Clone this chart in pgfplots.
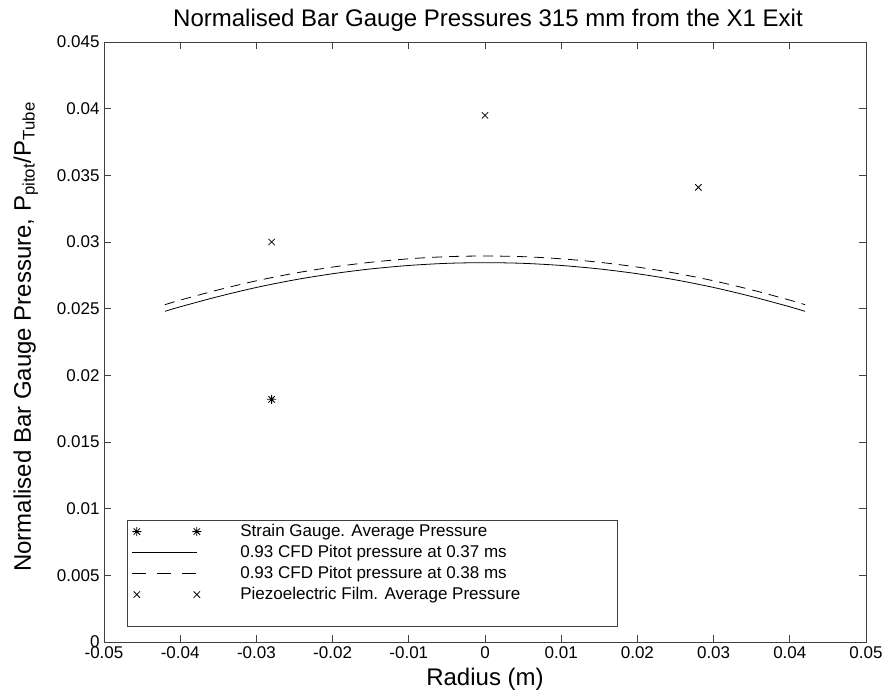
\documentclass[border=0pt]{standalone}
\usepackage{fontspec}
\setmainfont{Liberation Sans}
\usepackage{pgfplots}
\pgfplotsset{compat=1.18}
\pgfdeclareplotmark{ast8}{%
  \pgfpathmoveto{\pgfqpoint{0pt}{\pgfplotmarksize}}%
  \pgfpathlineto{\pgfqpoint{0pt}{-\pgfplotmarksize}}%
  \pgfpathmoveto{\pgfqpoint{\pgfplotmarksize}{0pt}}%
  \pgfpathlineto{\pgfqpoint{-\pgfplotmarksize}{0pt}}%
  \pgfpathmoveto{\pgfqpoint{.707\pgfplotmarksize}{.707\pgfplotmarksize}}%
  \pgfpathlineto{\pgfqpoint{-.707\pgfplotmarksize}{-.707\pgfplotmarksize}}%
  \pgfpathmoveto{\pgfqpoint{-.707\pgfplotmarksize}{.707\pgfplotmarksize}}%
  \pgfpathlineto{\pgfqpoint{.707\pgfplotmarksize}{-.707\pgfplotmarksize}}%
  \pgfusepathqstroke}
\begin{document}
\begin{tikzpicture}
\begin{axis}[
  name=ax,
  scale only axis,
  width=762pt, height=600pt,
  xmin=-0.05, xmax=0.05, ymin=0, ymax=0.045,
  xtick={-0.05,-0.04,-0.03,-0.02,-0.01,0,0.01,0.02,0.03,0.04,0.05},
  xticklabels={-0.05,-0.04,-0.03,-0.02,-0.01,0,0.01,0.02,0.03,0.04,0.05},
  ytick={0,0.005,0.01,0.015,0.02,0.025,0.03,0.035,0.04,0.045},
  yticklabels={0,0.005,0.01,0.015,0.02,0.025,0.03,0.035,0.04,0.045},
  scaled ticks=false,
  tick align=inside, tick pos=both,
  major tick length=7pt,
  axis line style={black!75, line width=0.8pt},
  every tick/.style={black!75, line width=0.8pt},
  tick label style={font=\fontsize{17}{19}\selectfont},
  xticklabel style={yshift=-1pt},
  yticklabel style={xshift=-1pt},
  title={Normalised Bar Gauge Pressures 315 mm from the X1 Exit},
  title style={font=\fontsize{24}{26}\selectfont, yshift=1pt, xshift=3pt},
  xlabel={Radius (m)},
  xlabel style={font=\fontsize{24}{26}\selectfont, yshift=-3pt},
  ylabel={Normalised Bar Gauge Pressure, P$_{\mathrm{pitot}}$/P$_{\mathrm{Tube}}$},
  ylabel style={font=\fontsize{24}{26}\selectfont, xshift=5pt},
  ylabel shift=12pt,
  legend style={at={(0.0302,0.025)}, anchor=south west, draw=black!75, line width=0.8pt,
    font=\fontsize{17}{19}\selectfont, cells={anchor=west}, column sep=38pt, row sep=3pt,
    inner xsep=4pt, inner ysep=2pt,
    nodes={inner sep=1pt, text height=12.5pt, text depth=3.5pt}},
]
\addplot[only marks, mark=ast8, mark size=4.5pt, mark options={line width=0.8pt},
  legend image code/.code={\draw[only marks] plot coordinates {(5pt,0pt) (65pt,0pt)};}]
  coordinates {(-0.028,0.0182)};
\addlegendentry{Strain Gauge. Average Pressure}
\addplot[black, line width=0.8pt, smooth, legend image code/.code={\draw (0pt,0pt) -- (65pt,0pt);}]
  coordinates {
  (-0.042,0.02480) (-0.040,0.02514) (-0.035,0.02591) (-0.030,0.02659) (-0.025,0.02716)
  (-0.020,0.02762) (-0.015,0.02798) (-0.010,0.02824) (-0.005,0.02840) (0.000,0.02845)
  (0.005,0.02840) (0.010,0.02824) (0.015,0.02798) (0.020,0.02762) (0.025,0.02716)
  (0.030,0.02659) (0.035,0.02591) (0.040,0.02514) (0.042,0.02480)};
\addlegendentry{0.93 CFD Pitot pressure at 0.37 ms}
\addplot[black, line width=0.8pt, smooth, dash pattern=on 10pt off 7pt,
  legend image code/.code={\draw[dash pattern=on 14pt off 11pt] (0pt,0pt) -- (64pt,0pt);}]
  coordinates {
  (-0.042,0.02530) (-0.040,0.02564) (-0.035,0.02641) (-0.030,0.02709) (-0.025,0.02766)
  (-0.020,0.02812) (-0.015,0.02848) (-0.010,0.02874) (-0.005,0.02890) (0.000,0.02895)
  (0.005,0.02890) (0.010,0.02874) (0.015,0.02848) (0.020,0.02812) (0.025,0.02766)
  (0.030,0.02709) (0.035,0.02641) (0.040,0.02564) (0.042,0.02530)};
\addlegendentry{0.93 CFD Pitot pressure at 0.38 ms}
\addplot[only marks, mark=x, mark size=4.5pt, mark options={line width=0.8pt},
  legend image code/.code={\draw[only marks] plot coordinates {(5pt,0pt) (65pt,0pt)};}]
  coordinates {(-0.028,0.0300) (0.000,0.0395) (0.028,0.0341)};
\addlegendentry{Piezoelectric Film. Average Pressure\hspace*{92pt}\null}
\addlegendimage{empty legend}
\addlegendentry{}
\end{axis}
\pgfresetboundingbox
\path[use as bounding box] ([shift={(-104pt,-54pt)}]ax.south west) rectangle ([shift={(18pt,42pt)}]ax.north east);
\end{tikzpicture}
\end{document}
